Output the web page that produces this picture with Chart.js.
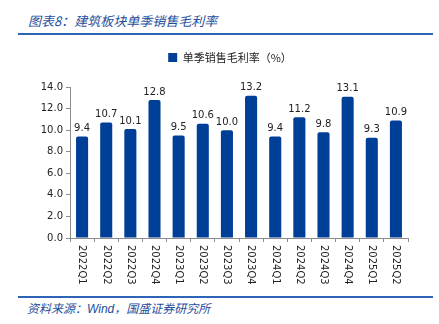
<!DOCTYPE html>
<html><head><meta charset="utf-8">
<script src="https://cdn.jsdelivr.net/npm/chart.js@4"></script>
<style>
html,body{margin:0;padding:0;background:#fff;}
#wrap{position:relative;width:439px;height:324px;overflow:hidden;}
#title{position:absolute;left:28px;top:11px;font-family:"Noto Sans CJK SC";font-style:italic;font-size:13px;color:#1f4e9c;white-space:nowrap;}
#line1{position:absolute;left:18px;top:33px;width:415px;height:2px;background:#2e64b8;}
#line2{position:absolute;left:18px;top:296px;width:415px;height:1.5px;background:#2e64b8;}
#src{position:absolute;left:27px;top:299px;font-family:"Noto Sans CJK SC";font-style:italic;font-size:12px;color:#1f4e9c;white-space:nowrap;}
#cv{position:absolute;left:0;top:40px;}
</style></head><body>
<div id="wrap">
<div id="title">图表8：建筑板块单季销售毛利率</div>
<div id="line1"></div>
<canvas id="cv" width="439" height="248"></canvas>
<div id="line2"></div>
<div id="src">资料来源：<span style="font-family:'Liberation Sans',Arial;">Wind</span>，国盛证券研究所</div>
</div>
<script>
const categories = ["2022Q1","2022Q2","2022Q3","2022Q4","2023Q1","2023Q2","2023Q3","2023Q4","2024Q1","2024Q2","2024Q3","2024Q4","2025Q1","2025Q2"];
const grossMargin = [9.4,10.7,10.1,12.8,9.5,10.6,10.0,13.2,9.4,11.2,9.8,13.1,9.3,10.9];
const seriesName = "单季销售毛利率（%）";
const yTicks = [0,2,4,6,8,10,12,14];

const barColor = "#003f98";
const axisColor = "#8c8c8c";
const textColor = "#222";

const valueLabels = {
  id: 'valueLabels',
  afterDatasetsDraw(chart) {
    const ctx = chart.ctx;
    const meta = chart.getDatasetMeta(0);
    ctx.save();
    ctx.font = '10px "DejaVu Sans"';
    ctx.fillStyle = textColor;
    ctx.textAlign = 'center';
    ctx.textBaseline = 'bottom';
    meta.data.forEach((bar, i) => {
      ctx.fillText(grossMargin[i].toFixed(1), bar.x, bar.y - 3);
    });
    ctx.restore();
  }
};

const xLabels = {
  id: 'xLabels',
  afterDraw(chart) {
    const ctx = chart.ctx;
    const xs = chart.scales.x;
    ctx.save();
    ctx.font = '10px "DejaVu Sans"';
    ctx.fillStyle = textColor;
    ctx.textAlign = 'left';
    ctx.textBaseline = 'middle';
    categories.forEach((c, i) => {
      const x = xs.getPixelForTick(i);
      ctx.save();
      ctx.translate(x, xs.top + 7);
      ctx.rotate(Math.PI / 2);
      ctx.fillText(c, 0, 0);
      ctx.restore();
    });
    ctx.restore();
  }
};

const legendShift = {
  id: 'legendShift',
  afterLayout(chart) {
    const lg = chart.legend;
    lg.left += 6; lg.right += 6;
    lg.top -= 14; lg.bottom -= 14;
  }
};

new Chart(document.getElementById('cv'), {
  type: 'bar',
  data: {
    labels: categories,
    datasets: [{
      label: seriesName,
      data: grossMargin,
      backgroundColor: barColor,
      borderRadius: {topLeft: 2, topRight: 2},
      borderSkipped: 'bottom',
      barPercentage: 0.5,
      categoryPercentage: 1.0
    }]
  },
  options: {
    responsive: false,
    animation: false,
    layout: {padding: {left: 40, right: 31, top: 18, bottom: 0}},
    plugins: {
      legend: {
        display: true,
        position: 'top',
        labels: {
          boxWidth: 9, boxHeight: 9,
          font: {family: '"Noto Sans CJK SC"', size: 11},
          color: textColor,
          padding: 8
        }
      },
      tooltip: {enabled: false}
    },
    scales: {
      x: {
        afterFit(scale) { scale.height = 50; },
        grid: {display: true, offset: true, drawOnChartArea: false, drawTicks: true, tickLength: 4, color: axisColor},
        border: {display: true, color: axisColor},
        ticks: {color: 'rgba(0,0,0,0)', font: {family: '"DejaVu Sans"', size: 10}, minRotation: 90, maxRotation: 90, autoSkip: false, padding: 2}
      },
      y: {
        min: 0, max: 14,
        afterBuildTicks(scale) { scale.ticks = yTicks.map(v => ({value: v})); },
        afterFit(scale) { scale.width = 30; },
        grid: {display: true, drawOnChartArea: false, drawTicks: true, tickLength: 4, color: axisColor},
        border: {display: true, color: axisColor},
        ticks: {color: textColor, font: {family: '"DejaVu Sans"', size: 10}, padding: 3,
          callback: v => Number(v).toFixed(1)}
      }
    }
  },
  plugins: [valueLabels, xLabels, legendShift]
});
</script>
</body></html>
